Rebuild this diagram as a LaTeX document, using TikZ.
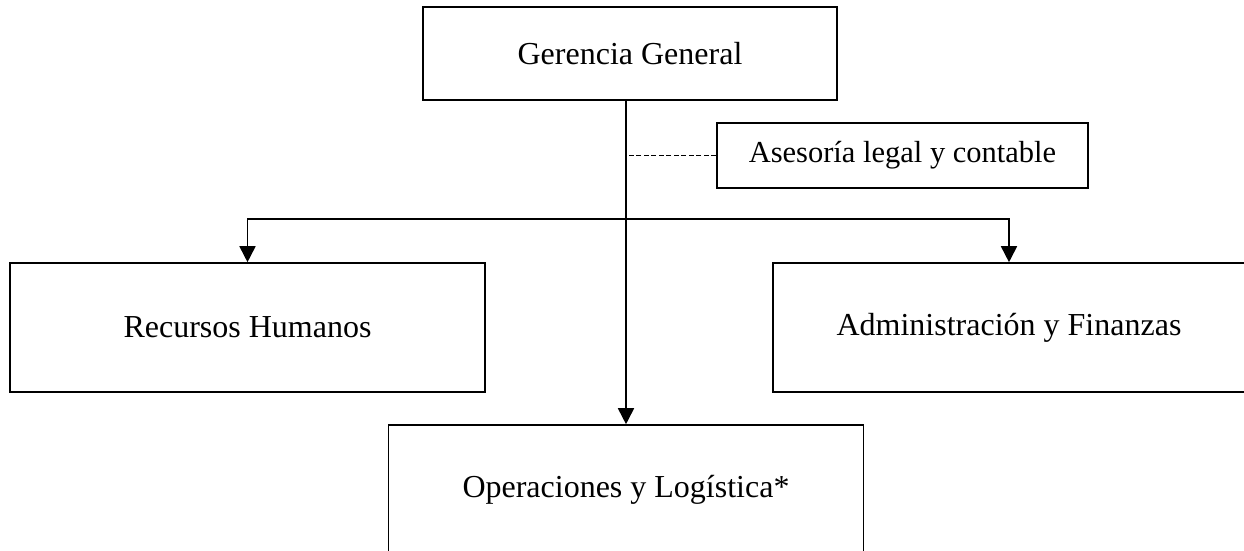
\documentclass[tikz,border=0pt]{standalone}
\usepackage{fontspec}
\setmainfont{Liberation Serif}
\usetikzlibrary{arrows.meta,calc}
\begin{document}
\begin{tikzpicture}[x=1pt,y=-1pt,
  box/.style={draw=black,line width=1.6pt,rectangle,inner sep=0pt,align=center,font=\fontsize{32}{38}\selectfont},
  conn/.style={line width=1.7pt,draw=black},
  arr/.style={conn,-{Triangle[width=16pt,length=16pt]}},
  dashconn/.style={line width=1.5pt,draw=black,dash pattern=on 5pt off 2.5pt}]
\useasboundingbox (0,0) rectangle (1244,551);
\clip (0,0) rectangle (1244,551);
\node[box,minimum width=414pt,minimum height=93pt] (g) at (630,53.5) {Gerencia General};
\node[box,minimum width=371pt,minimum height=65pt,font=\fontsize{30.5}{36}\selectfont] (as) at (902.5,155.5) {Asesoría legal y contable};
\node[box,minimum width=475pt,minimum height=129pt] (rh) at (247.5,327.5) {Recursos Humanos};
\node[box,minimum width=472pt,minimum height=129pt] (af) at (1009,327.5) {Administración y Finanzas};
\node[box,minimum width=475pt,minimum height=129pt] (op) at (626,489.5) {Operaciones y Logística*};
\coordinate (j) at ($(op.north)+(0,-205)$);
\draw[arr] (g.south -| op.north) -- (op.north);
\draw[arr] (j) -| (rh.north);
\draw[arr] (j) -| (af.north);
\draw[dashconn] (as.west) -- (as.west -| op.north);
\end{tikzpicture}
\end{document}
